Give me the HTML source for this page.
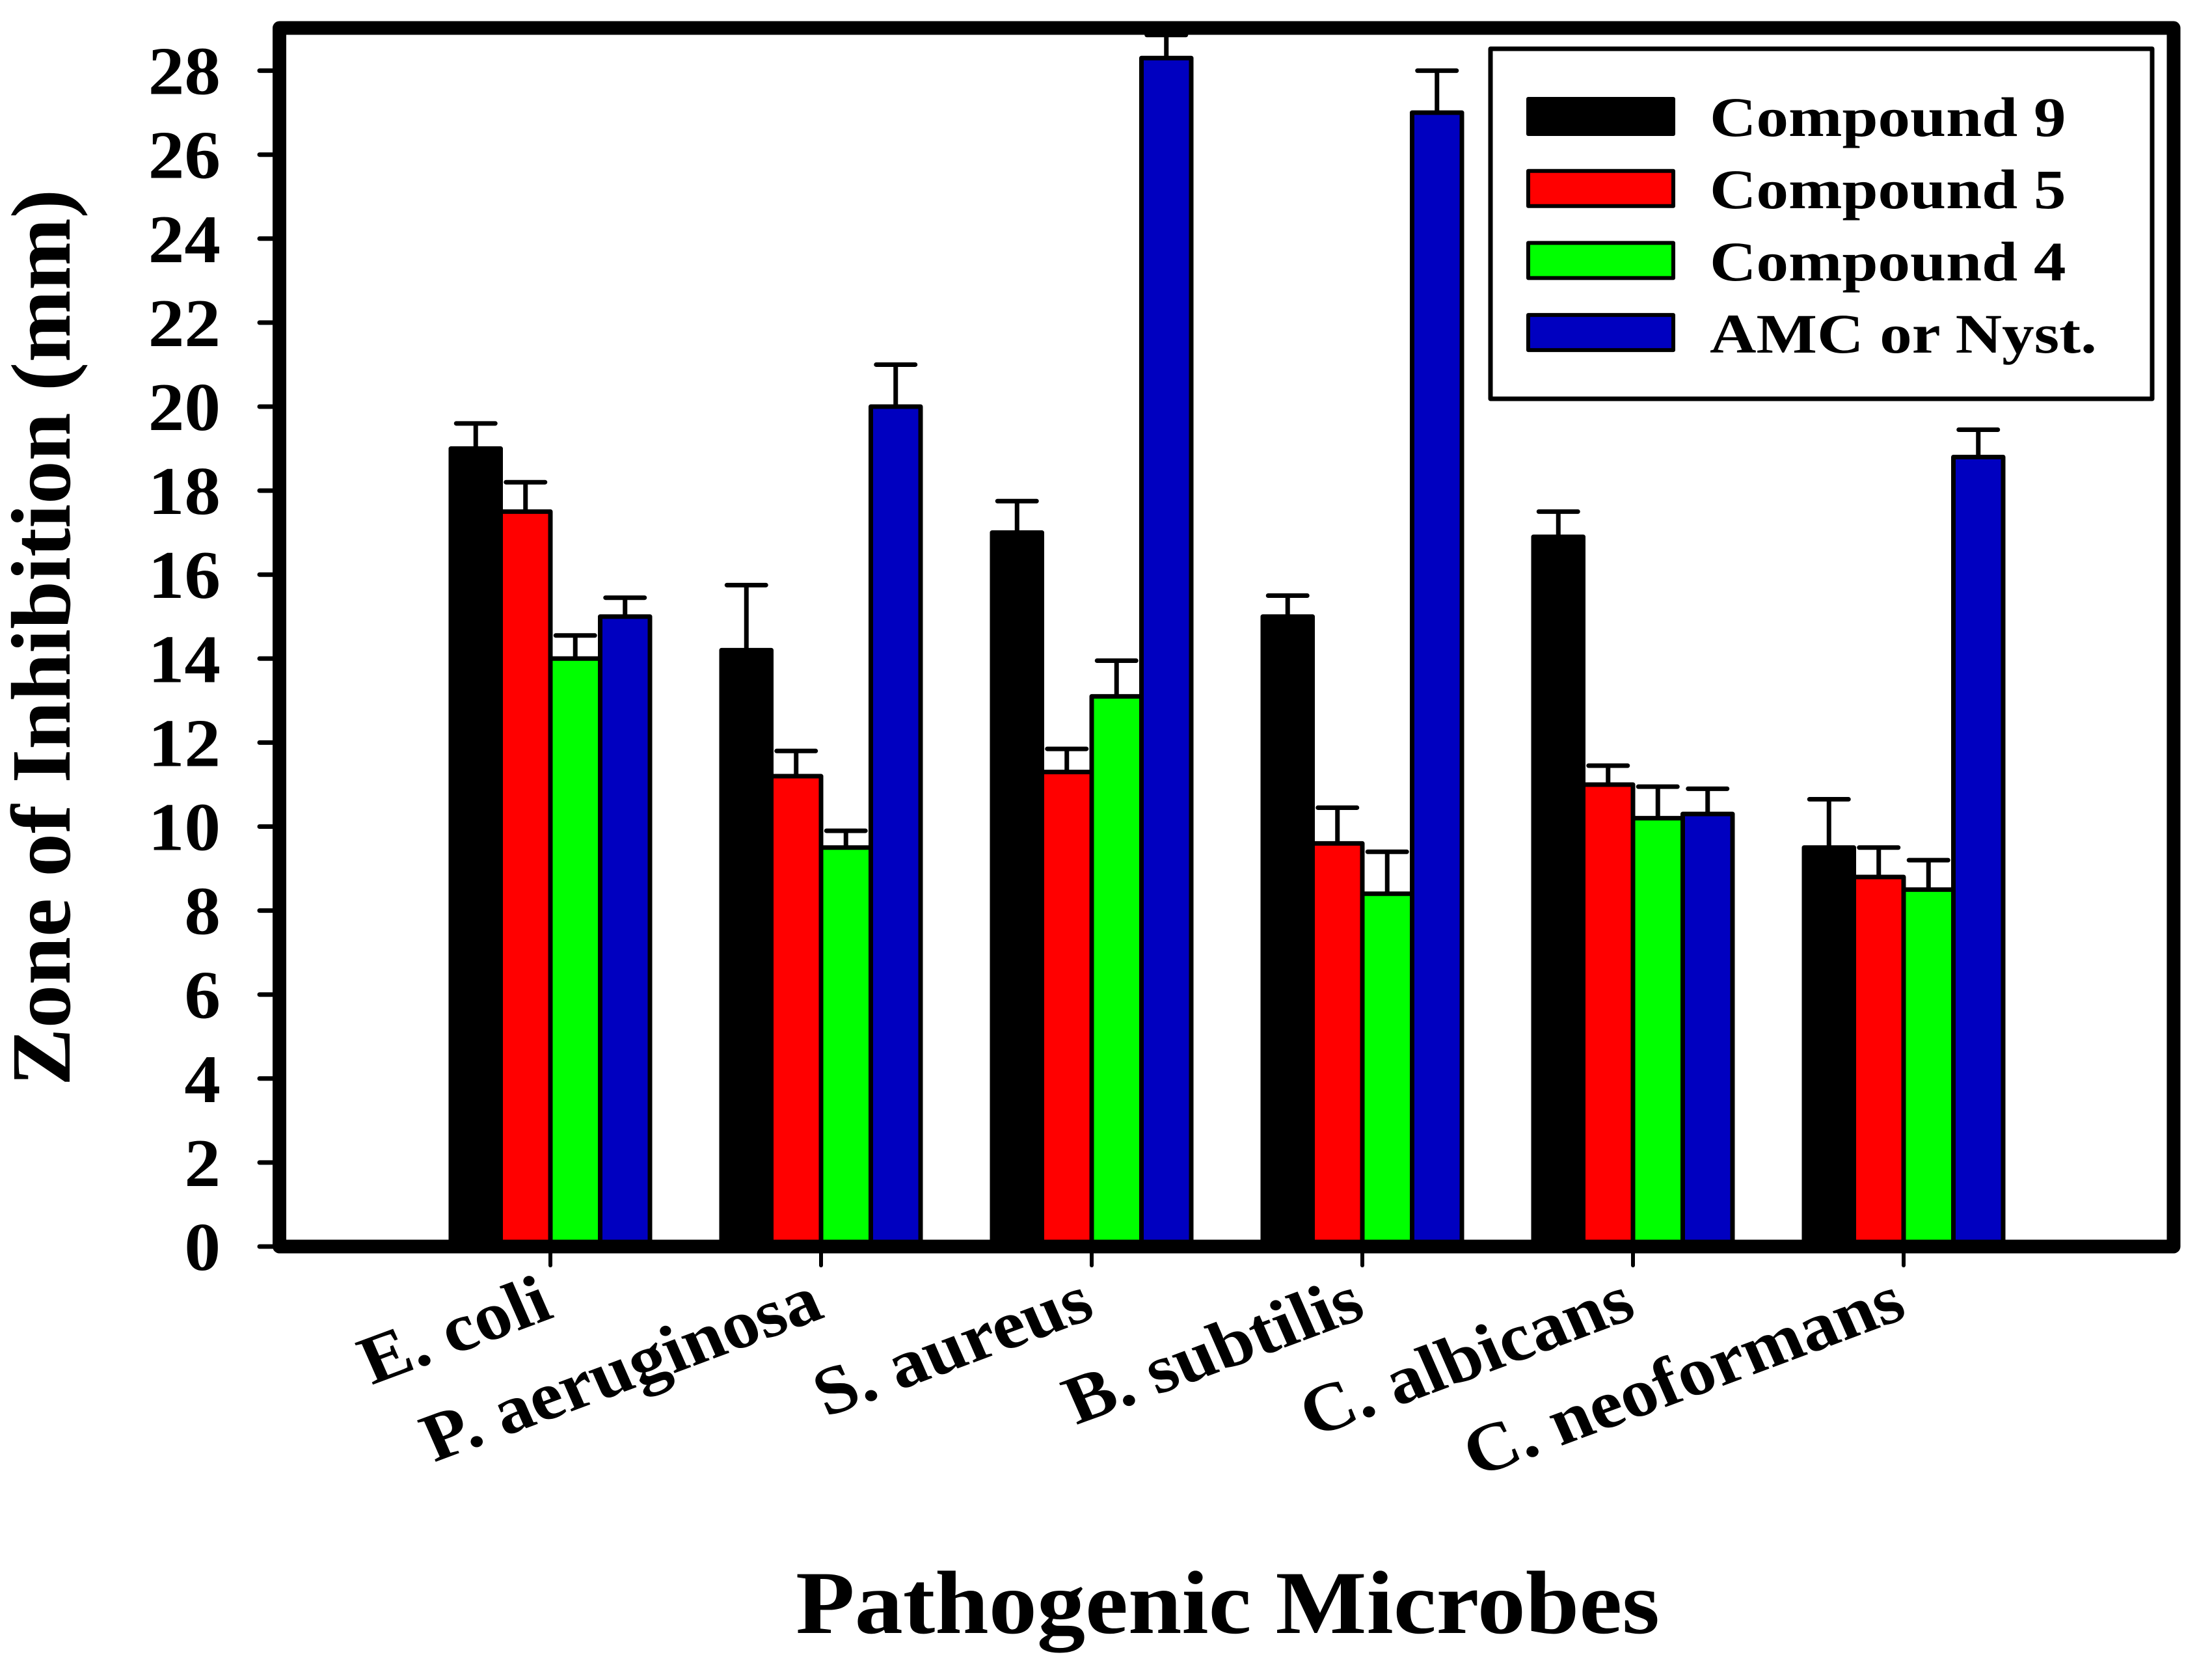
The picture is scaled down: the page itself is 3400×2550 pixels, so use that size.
<!DOCTYPE html>
<html>
<head>
<meta charset="utf-8">
<title>Zone of Inhibition chart</title>
<style>
html,body{margin:0;padding:0;background:#fff;width:3400px;height:2550px;overflow:hidden}
svg{display:block}
text{font-family:"Liberation Serif",serif;font-weight:bold;fill:#000}
</style>
</head>
<body>
<svg id="chart" xmlns="http://www.w3.org/2000/svg" width="3400" height="2550" viewBox="0 0 3400 2550">
  <rect x="0" y="0" width="3400" height="2550" fill="#ffffff"/>
  <g id="bars"></g>
  <rect x="429.5" y="43" width="2911.5" height="1873" fill="none" stroke="#000" stroke-width="21" stroke-linejoin="round"/>
  <g id="ticks"></g>
  <rect x="2291" y="75" width="1017" height="538" fill="#fff" stroke="#000" stroke-width="7" stroke-linejoin="round"/>
  <g id="legend"></g>
  <text transform="translate(107,980) rotate(-90) scale(1.33,1.3)" font-size="100" text-anchor="middle">Zone of Inhibition (mm)</text>
  <text transform="translate(1887,2510) scale(1.107,1.03)" font-size="134" text-anchor="middle">Pathogenic Microbes</text>
</svg>
<script>
const categories = ["E. coli", "P. aeruginosa", "S. aureus", "B. subtilis", "C. albicans", "C. neoformans"];
const seriesNames = ["Compound 9", "Compound 5", "Compound 4", "AMC or Nyst."];
const seriesColors = ["#000000", "#ff0000", "#00ff00", "#0000c0"];
const compound9 = [19, 14.2, 17, 15, 16.9, 9.5];
const compound5 = [17.5, 11.2, 11.3, 9.6, 11, 8.8];
const compound4 = [14, 9.5, 13.1, 8.4, 10.2, 8.5];
const amcNyst = [15, 20, 28.3, 27, 10.3, 18.8];
const compound9Top = [19.6, 15.75, 17.75, 15.5, 17.5, 10.65];
const compound5Top = [18.2, 11.8, 11.85, 10.45, 11.45, 9.5];
const compound4Top = [14.55, 9.9, 13.95, 9.4, 10.95, 9.2];
const amcNystTop = [15.45, 21, 28.85, 28, 10.9, 19.45];
const yTicks = [0, 2, 4, 6, 8, 10, 12, 14, 16, 18, 20, 22, 24, 26, 28];

const seriesValues = [compound9, compound5, compound4, amcNyst];
const seriesTops = [compound9Top, compound5Top, compound4Top, amcNystTop];
const NS = "http://www.w3.org/2000/svg";
const Y0 = 1916, UNIT = 64.55, X0 = 846, STEP = 416, BAR = 76.5;
function yScale(v) { return Y0 - v * UNIT; }
function xCenter(i) { return X0 + i * STEP; }
function xBar(i, j) { return xCenter(i) + (j - 2) * BAR; }
function make(tag, parent, attrs) {
  const el = document.createElementNS(NS, tag);
  for (const k in attrs) el.setAttribute(k, attrs[k]);
  parent.appendChild(el);
  return el;
}
const barsLayer = document.getElementById("bars");
const ticksLayer = document.getElementById("ticks");
const legendLayer = document.getElementById("legend");

seriesValues.forEach(function (vals, j) {
  vals.forEach(function (v, i) {
    const x = xBar(i, j);
    const xm = x + BAR / 2;
    const stem = make("line", barsLayer, { x1: xm, x2: xm, y1: yScale(v), y2: yScale(seriesTops[j][i]), stroke: "#000", "stroke-width": 7 });
    
    
    const cap = make("line", barsLayer, { x1: xm - 30, x2: xm + 30, y1: yScale(seriesTops[j][i]), y2: yScale(seriesTops[j][i]), stroke: "#000", "stroke-width": 7, "stroke-linecap": "round" });
    
    
    const bar = make("rect", barsLayer, { x: x, y: yScale(v), width: BAR, height: Y0 - yScale(v), fill: seriesColors[j], stroke: "#000", "stroke-width": 7, "stroke-linejoin": "round" });
    
    
  });
});

yTicks.forEach(function (t) {
  const y = yScale(t);
  const tick = make("line", ticksLayer, { x1: 399, x2: 425, y1: y, y2: y, stroke: "#000", "stroke-width": 7, "stroke-linecap": "round" });
  
  
  const label = make("text", ticksLayer, { transform: "translate(339," + (y + 36) + ") scale(1.07,1.01)", "font-size": 104, "text-anchor": "end" });
  label.textContent = String(t);
  
  
});

categories.forEach(function (c, i) {
  const x = xCenter(i);
  const tick = make("line", ticksLayer, { x1: x, x2: x, y1: 1920, y2: 1945, stroke: "#000", "stroke-width": 6, "stroke-linecap": "round" });
  
  
  const label = make("text", ticksLayer, { transform: "translate(" + (x + 8) + ",2024) scale(1.11,1.02) rotate(-22)", "font-size": 103, "text-anchor": "end" });
  label.textContent = c;
  
  
});

seriesNames.forEach(function (n, j) {
  const top = 152 + j * 110.7;
  const sw = make("rect", legendLayer, { x: 2349, y: top, width: 223, height: 54, fill: seriesColors[j], stroke: "#000", "stroke-width": 6, "stroke-linejoin": "round" });
  
  
  const label = make("text", legendLayer, { transform: "translate(2628," + (209 + j * 111) + ") scale(1.165,1.01)", "font-size": 85 });
  label.textContent = n;
  
  
});
</script>
</body>
</html>
